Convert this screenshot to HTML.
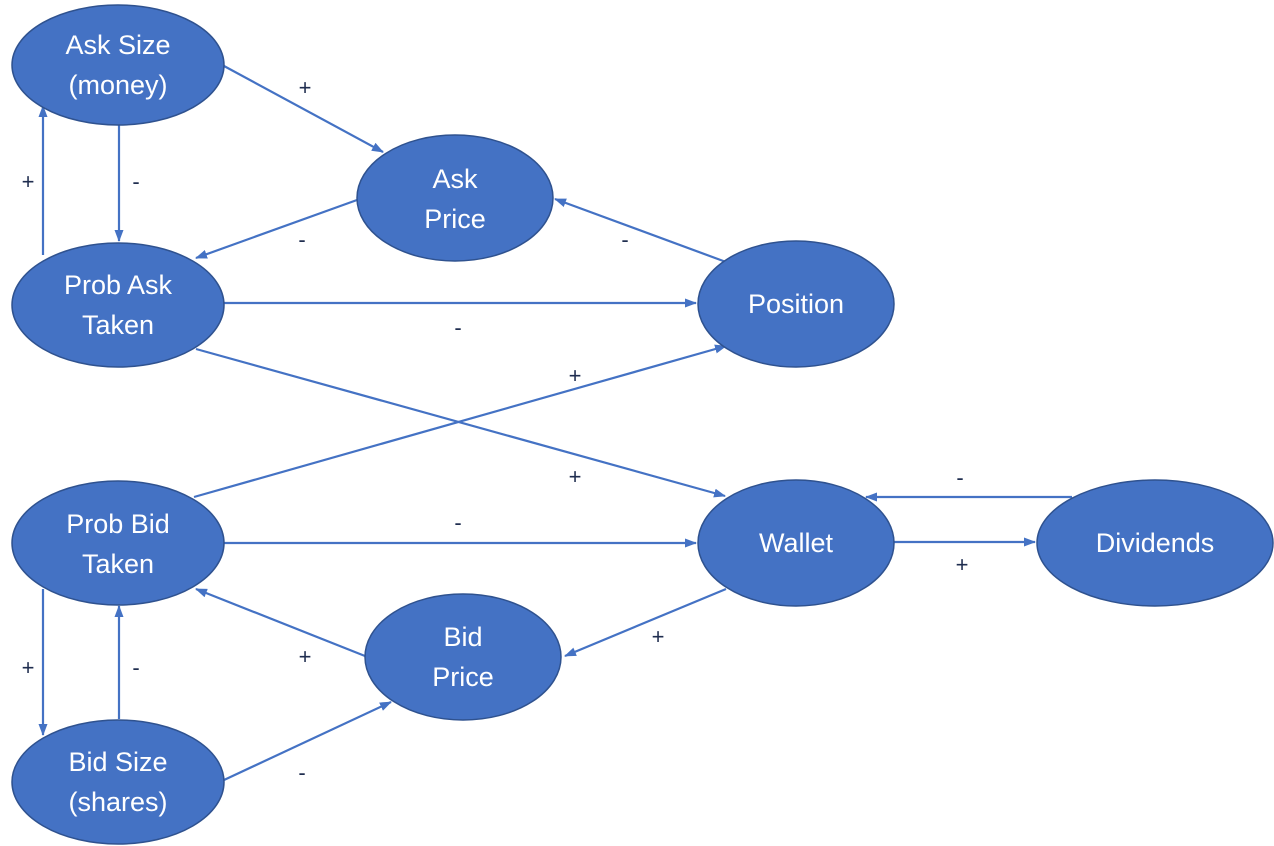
<!DOCTYPE html>
<html><head><meta charset="utf-8"><style>
html,body{margin:0;padding:0;background:#fff;}
svg{display:block;}
.n{fill:#4472C4;stroke:#2F528F;stroke-width:1.5;}
.t{fill:#fff;font-family:"Liberation Sans",sans-serif;font-size:27px;text-anchor:middle;}
.e{stroke:#4472C4;stroke-width:2.2;fill:none;marker-end:url(#a);}
.l{fill:#1f2d4f;font-family:"Liberation Sans",sans-serif;font-size:22px;text-anchor:middle;}
</style></head><body>
<svg width="1274" height="846" viewBox="0 0 1274 846">
<defs><marker id="a" markerWidth="12" markerHeight="9" refX="11" refY="4.5" orient="auto" markerUnits="userSpaceOnUse"><path d="M0,0 L12,4.5 L0,9 z" fill="#4472C4"/></marker></defs>
<line class="e" x1="224" y1="66" x2="383" y2="152"/>
<line class="e" x1="119" y1="125" x2="119" y2="241"/>
<line class="e" x1="43" y1="255" x2="43" y2="106"/>
<line class="e" x1="357" y1="200" x2="196" y2="258"/>
<line class="e" x1="726" y1="262" x2="555" y2="199"/>
<line class="e" x1="224" y1="303" x2="696" y2="303"/>
<line class="e" x1="196" y1="349" x2="725" y2="496"/>
<line class="e" x1="194" y1="497" x2="726" y2="346"/>
<line class="e" x1="224" y1="543" x2="696" y2="543"/>
<line class="e" x1="1072" y1="497" x2="866" y2="497"/>
<line class="e" x1="894" y1="542" x2="1035" y2="542"/>
<line class="e" x1="726" y1="589" x2="565" y2="656"/>
<line class="e" x1="365" y1="656" x2="196" y2="589"/>
<line class="e" x1="43" y1="589" x2="43" y2="735"/>
<line class="e" x1="119" y1="719" x2="119" y2="606"/>
<line class="e" x1="224" y1="780" x2="391" y2="702"/>
<ellipse class="n" cx="118" cy="65" rx="106" ry="60"/>
<ellipse class="n" cx="455" cy="198" rx="98" ry="63"/>
<ellipse class="n" cx="118" cy="305" rx="106" ry="62"/>
<ellipse class="n" cx="796" cy="304" rx="98" ry="63"/>
<ellipse class="n" cx="118" cy="543" rx="106" ry="62"/>
<ellipse class="n" cx="796" cy="543" rx="98" ry="63"/>
<ellipse class="n" cx="1155" cy="543" rx="118" ry="63"/>
<ellipse class="n" cx="463" cy="657" rx="98" ry="63"/>
<ellipse class="n" cx="118" cy="782" rx="106" ry="62"/>
<text class="t" x="118" y="54">Ask Size</text><text class="t" x="118" y="94">(money)</text>
<text class="t" x="455" y="188">Ask</text><text class="t" x="455" y="228">Price</text>
<text class="t" x="118" y="294">Prob Ask</text><text class="t" x="118" y="334">Taken</text>
<text class="t" x="796" y="313">Position</text>
<text class="t" x="118" y="533">Prob Bid</text><text class="t" x="118" y="573">Taken</text>
<text class="t" x="796" y="552">Wallet</text>
<text class="t" x="1155" y="552">Dividends</text>
<text class="t" x="463" y="646">Bid</text><text class="t" x="463" y="686">Price</text>
<text class="t" x="118" y="771">Bid Size</text><text class="t" x="118" y="811">(shares)</text>
<text class="l" x="305" y="95">+</text>
<text class="l" x="136" y="189">-</text>
<text class="l" x="28" y="189">+</text>
<text class="l" x="302" y="247">-</text>
<text class="l" x="625" y="247">-</text>
<text class="l" x="458" y="335">-</text>
<text class="l" x="575" y="484">+</text>
<text class="l" x="575" y="383">+</text>
<text class="l" x="458" y="530">-</text>
<text class="l" x="960" y="485">-</text>
<text class="l" x="962" y="572">+</text>
<text class="l" x="658" y="644">+</text>
<text class="l" x="305" y="664">+</text>
<text class="l" x="28" y="675">+</text>
<text class="l" x="136" y="675">-</text>
<text class="l" x="302" y="780">-</text>
</svg>
</body></html>
